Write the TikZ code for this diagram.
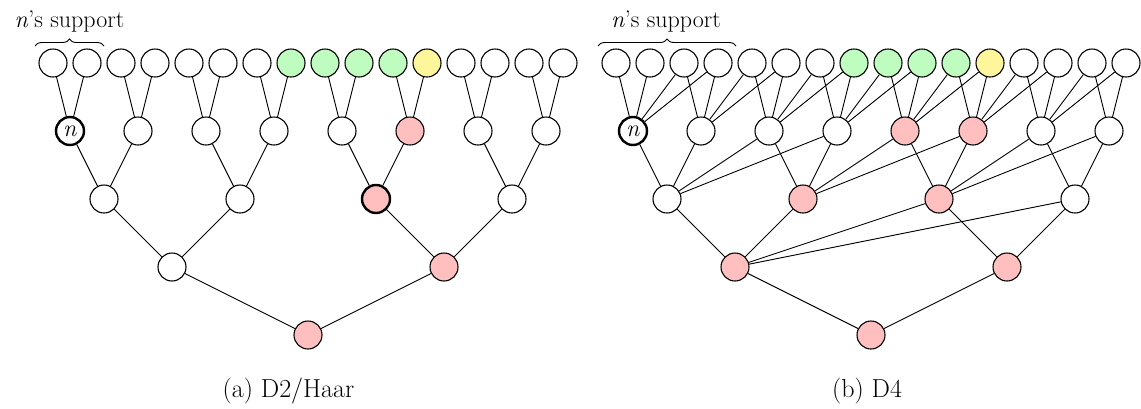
\documentclass[tikz,border=0pt]{standalone}
\usetikzlibrary{decorations.pathreplacing}
\definecolor{pinkfill}{RGB}{255,191,191}
\definecolor{greenfill}{RGB}{191,252,191}
\definecolor{yellowfill}{RGB}{255,245,155}
\begin{document}
\begin{tikzpicture}[x=1pt,y=-1pt,
  nd/.style={circle,draw,line width=1.1pt,minimum size=28pt,inner sep=0pt,fill=white},
  wh/.style={nd},
  gr/.style={nd,fill=greenfill},
  ye/.style={nd,fill=yellowfill},
  pk/.style={nd,fill=pinkfill},
  bd/.style={line width=2.4pt},
  nb/.style={nd,bd,label={[lblfont]center:\textit{n}}},
  pb/.style={pk,bd},
  lblfont/.style={font=\fontsize{24}{28}\selectfont,inner sep=0pt},
  capfont/.style={font=\fontsize{26}{30}\selectfont,inner sep=0pt},
  edge/.style={line width=0.9pt},
  lbl/.style={lblfont,anchor=base},
  captext/.style={capfont,anchor=base}
]
\useasboundingbox (0,0) rectangle (1141,408);

% ---------- left tree (a) ----------
\foreach \l/\lst in {0/{wh,wh,wh,wh,wh,wh,wh,gr,gr,gr,gr,ye,wh,wh,wh,wh},
                     1/{nb,wh,wh,wh,wh,pk,wh,wh},
                     2/{wh,wh,pb,wh},
                     3/{wh,pk},
                     4/{pk}}{
  \foreach \s [count=\k from 0] in \lst {
    \pgfmathsetmacro\xx{53+34*(2^\l*\k)+17*(2^\l-1)}
    \pgfmathsetmacro\yy{63+68*\l}
    \node[\s] (a\l-\k) at (\xx,\yy) {};
  }
}
% ---------- right tree (b) ----------
\foreach \l/\lst in {0/{wh,wh,wh,wh,wh,wh,wh,gr,gr,gr,gr,ye,wh,wh,wh,wh},
                     1/{nb,wh,wh,wh,pk,pk,wh,wh},
                     2/{wh,pk,pk,wh},
                     3/{pk,pk},
                     4/{pk}}{
  \foreach \s [count=\k from 0] in \lst {
    \pgfmathsetmacro\xx{616+34*(2^\l*\k)+17*(2^\l-1)}
    \pgfmathsetmacro\yy{63+68*\l}
    \node[\s] (b\l-\k) at (\xx,\yy) {};
  }
}

% ---------- edges left: binary ----------
\foreach \l in {1,...,4}{
  \pgfmathtruncatemacro\N{2^(4-\l)-1}
  \pgfmathtruncatemacro\p{\l-1}
  \foreach \k in {0,...,\N}{
    \pgfmathtruncatemacro\c{2*\k}
    \pgfmathtruncatemacro\d{2*\k+1}
    \draw[edge] (a\l-\k) -- (a\p-\c);
    \draw[edge] (a\l-\k) -- (a\p-\d);
  }
}
% ---------- edges right: D4 (four children) ----------
\foreach \l in {1,...,4}{
  \pgfmathtruncatemacro\N{2^(4-\l)-1}
  \pgfmathtruncatemacro\M{2^(5-\l)}
  \pgfmathtruncatemacro\p{\l-1}
  \foreach \k in {0,...,\N}{
    \foreach \j in {0,...,3}{
      \pgfmathtruncatemacro\c{2*\k+\j}
      \ifnum\c<\M
        \draw[edge] (b\l-\k) -- (b\p-\c);
      \fi
    }
  }
}

% ---------- braces and labels ----------
\coordinate (bra1) at (35,46);
\coordinate (bra2) at (104,46);
\coordinate (brb1) at (598,46);
\coordinate (brb2) at (736,46);
\draw[edge,decorate,decoration={brace,amplitude=7pt}] (bra1) -- (bra2);
\draw[edge,decorate,decoration={brace,amplitude=7pt}] (brb1) -- (brb2);
\node[lbl] (supa) at (69.5,27) {\textit{n}'s support};
\node[lbl] (supb) at (666,27) {\textit{n}'s support};

\node[captext] (capa) at (288.5,397) {(a) D2/Haar};
\node[captext] (capb) at (867,397) {(b) D4};
\end{tikzpicture}
\end{document}
